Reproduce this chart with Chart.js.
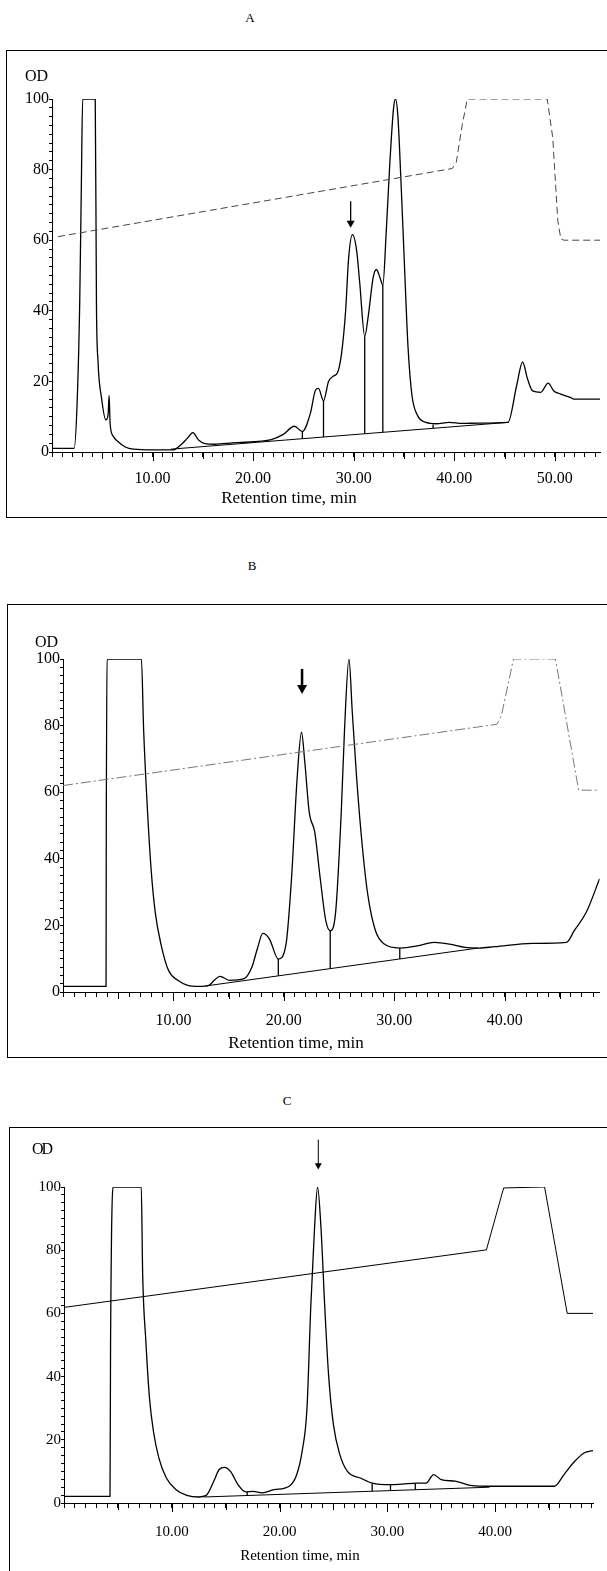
<!DOCTYPE html>
<html>
<head>
<meta charset="utf-8">
<script src="https://cdn.jsdelivr.net/npm/chart.js@4.4.1/dist/chart.umd.min.js"></script>
<style>
html, body { margin: 0; padding: 0; overflow: hidden; background: #fff; }
#page { position: relative; width: 607px; height: 1571px; overflow: hidden; font-family: "Liberation Serif", "Times New Roman", serif; color: #000; }
.frame { position: absolute; border: 1px solid #000; box-sizing: border-box; width: 700px; }
.lbl { position: absolute; white-space: nowrap; line-height: 1; }
.c { transform: translate(-50%, -50%); }
canvas { position: absolute; left: 0; }
</style>
</head>
<body>
<div id="page">
  <div class="frame" style="left:6px; top:50px; height:468px;"></div>
  <div class="frame" style="left:7px; top:604px; height:454px;"></div>
  <div class="frame" style="left:9px; top:1127px; height:500px;"></div>

  <canvas id="chartA" width="607" height="467" style="top:50px;"></canvas>
  <canvas id="chartB" width="607" height="453" style="top:604px;"></canvas>
  <canvas id="chartC" width="607" height="444" style="top:1127px;"></canvas>

  <div class="lbl c" style="left:250px; top:17px; font-size:13px;">A</div>
  <div class="lbl c" style="left:252px; top:565px; font-size:13px;">B</div>
  <div class="lbl c" style="left:287px; top:1100px; font-size:13px;">C</div>

  <div class="lbl" style="left:25px; top:68px; font-size:16px;">OD</div>
  <div class="lbl" style="left:35px; top:634px; font-size:16px;">OD</div>
  <div class="lbl" style="left:32px; top:1141px; font-size:16px; letter-spacing:-2px;">OD</div>

  <div class="lbl c" style="left:289px; top:497px; font-size:17px;">Retention time, min</div>
  <div class="lbl c" style="left:296px; top:1042px; font-size:17px;">Retention time, min</div>
  <div class="lbl c" style="left:300px; top:1555px; font-size:15px;">Retention time, min</div>
</div>

<script>
// tick labels shared by all three panels
const xTickLabels = [10, 20, 30, 40, 50];
const yTickLabels = [0, 20, 40, 60, 80, 100];

// ---- A ----
const timeA = [0, 2.2, 2.5, 2.76, 2.92, 3.05, 4.3, 4.42, 4.58, 4.92, 5.35, 5.58, 5.68, 5.78, 6.08, 6.58, 7.24, 8.1,
  10, 12.0, 12.8, 13.5, 14.0, 14.6, 15.2, 16.2, 18, 20, 21.8, 23, 24.1, 24.9, 25.7, 26.2, 26.5, 27.0, 27.5, 28.0, 28.4,
  28.8, 29.2, 29.5, 29.88, 30.3, 30.6, 31.1, 31.45, 31.94, 32.27, 32.66, 32.9, 33.25, 33.6, 33.97, 34.16, 34.4, 34.7,
  35.05, 35.4, 35.8, 36.36, 37.2, 38.2, 39.5, 40.8, 42.5, 45.35, 46.2, 46.8, 47.3, 47.8, 48.6, 49.34, 49.9, 50.6,
  51.6, 51.9, 54.5];
const odA = [1, 1, 14, 43, 76, 100, 100, 42, 25.5, 15.4, 9.1, 10.6, 16, 8, 4.5, 2.9, 1.5, 0.8,
  0.6, 0.6, 2, 4, 5.5, 3.3, 2.4, 2.2, 2.6, 2.9, 3.5, 5, 7.3, 5.8, 11, 17.5, 18, 14.5, 20, 21.5, 22.5,
  28, 40, 55, 61.6, 57, 48, 32.8, 38.5, 49.5, 51.7, 49, 47.3, 63, 82, 97.5, 100, 95, 77,
  53, 30, 16, 10.3, 8.4, 8, 8.4, 8.1, 8.2, 8.4, 18.7, 25.5, 20.6, 17.3, 16.9, 19.5, 17.3, 16.4,
  15.4, 15, 15];
const gradTimeA = [0.6, 39.8, 40.2, 40.8, 41.3, 49.25, 49.8, 50.3, 50.6, 50.9, 54.5];
const gradA = [61, 80.3, 82, 92.7, 100, 100, 89, 65.5, 60.4, 60, 60];
const baseTimeA = [11.8, 45.35];
const baseA = [0.8, 8.4];
const dropTimeA = [24.9, 27.0, 31.1, 32.9, 37.9];
const dropTopA = [5.8, 14.5, 32.8, 47.3, 7.8];
const arrowTimeA = 29.7;
const arrowA = [71, 63.5];

// ---- B ----
const timeB = [0, 3.9, 3.92, 4.05, 7.1, 7.3, 7.66, 8.0, 8.35, 8.87, 9.55, 10.4, 11.3, 12.3, 13.2, 13.7, 14.2, 14.6,
  15.05, 16.4, 17.1, 17.6, 18.1, 18.7, 19.5, 20.2, 20.7, 21.2, 21.6, 21.9, 22.3, 22.8, 23.3, 23.8, 24.2, 24.7, 25.2,
  25.5, 25.9, 26.2, 26.6, 27.1, 27.6, 28.3, 29.1, 30.5, 32.2, 33.6, 35.0, 36.4, 37.7, 39.1, 42.5, 45.6, 46.3, 47.4, 48.6];
const odB = [1.7, 1.7, 50, 100, 100, 79, 54, 36, 24, 14.4, 6.5, 3.5, 2, 1.7, 2, 3.5, 4.7, 4.2,
  3.5, 4, 7.4, 13, 17.6, 15.9, 9.9, 14.4, 34.3, 64, 78, 69, 54, 48, 34, 21.4, 18.4, 24.3, 54,
  79, 100, 84, 64, 44, 29.3, 18.4, 14.4, 13.2, 13.9, 14.9, 14.4, 13.4, 13.2, 13.6, 14.6, 14.9, 18.4, 24, 34];
const gradTimeB = [0, 39.3, 39.7, 40.8, 44.6, 46.7, 48.6];
const gradB = [62, 80.4, 83, 100, 100, 60.6, 60.6];
const baseTimeB = [12.9, 37.6];
const baseB = [1.8, 13.2];
const dropTimeB = [19.5, 24.2, 30.5];
const dropTopB = [9.9, 18.4, 13.2];
const arrowTimeB = 21.65;
const arrowB = [97, 89.5];

// ---- C ----
const timeC = [0, 4.27, 4.32, 4.6, 7.17, 7.3, 7.6, 7.94, 8.3, 8.8, 9.5, 10.4, 11.4, 12.5, 13.2, 13.9, 14.4, 14.9,
  15.45, 16.15, 16.85, 17.55, 18.4, 19.5, 20.9, 21.6, 22.1, 22.55, 22.9, 23.25, 23.53, 23.85, 24.2, 24.55, 25.0,
  25.6, 26.3, 27.5, 28.6, 30.3, 31.4, 32.8, 33.6, 34.3, 35.0, 36.3, 37.7, 39.8, 43.3, 45.5, 46.4, 47.4, 48.3, 49.1];
const odC = [2.1, 2.1, 50, 100, 100, 72.5, 51, 33, 22.7, 14.3, 7.9, 4.2, 2.4, 1.9, 2.4, 6.9, 10.6, 11.3,
  10, 5.8, 3.5, 3.7, 3.2, 4.2, 5.3, 9, 16.4, 30, 62, 87, 100, 87, 62, 40.7, 24.9,
  15.3, 10, 7.9, 6.3, 5.8, 6, 6.3, 6.3, 9, 7.4, 6.9, 5.6, 5.3, 5.3, 5.3, 9, 13.2, 15.9, 16.6];
const gradTimeC = [0, 39.2, 40.8, 44.6, 46.7, 49.1];
const gradC = [61.9, 80.1, 99.7, 100, 60, 60];
const baseTimeC = [13.0, 39.5];
const baseC = [1.9, 5.0];
const dropTimeC = [17.0, 28.6, 30.3, 32.6];
const dropTopC = [3.5, 6.3, 5.8, 6.3];
const arrowTimeC = 23.6;
const arrowC = [115, 105.5];

const FONT = '"Liberation Serif", "Times New Roman", serif';

function pts(xs, ys) {
    return xs.map((x, i) => ({ x: x, y: ys[i] }));
}

function interp(xs, ys, x) {
    for (let i = 1; i < xs.length; i++) {
        if (x <= xs[i]) {
            const f = (x - xs[i - 1]) / (xs[i] - xs[i - 1]);
            return ys[i - 1] + f * (ys[i] - ys[i - 1]);
        }
    }
    return ys[ys.length - 1];
}

// vertical drop lines from the integration baseline up to the trace
function dropPts(ts, tops, baseT, baseV) {
    const out = [];
    ts.forEach((t, i) => {
        out.push({ x: t, y: interp(baseT, baseV, t) }, { x: t, y: tops[i] }, { x: t, y: null });
    });
    return out;
}

// longer tick marks every 5 min
const majorTicks = {
    id: 'majorTicks',
    afterDraw(chart) {
        const xs = chart.scales.x;
        const ctx = chart.ctx;
        ctx.save();
        ctx.strokeStyle = '#000';
        ctx.lineWidth = 1;
        for (let t = 5; t < xs.max; t += 5) {
            const px = Math.round(xs.getPixelForValue(t)) + 0.5;
            ctx.beginPath();
            ctx.moveTo(px, xs.top);
            ctx.lineTo(px, xs.top + (t % 10 === 0 ? 9 : 7));
            ctx.stroke();
        }
        ctx.restore();
    }
};

// arrow marking the collected peak (may sit above the plot area, so drawn here)
const peakArrow = {
    id: 'peakArrow',
    afterDatasetsDraw(chart, args, opts) {
        const px = chart.scales.x.getPixelForValue(opts.t);
        const y1 = chart.scales.y.getPixelForValue(opts.od[0]);
        const y2 = chart.scales.y.getPixelForValue(opts.od[1]);
        const ctx = chart.ctx;
        ctx.save();
        ctx.strokeStyle = '#000';
        ctx.fillStyle = '#000';
        ctx.lineWidth = opts.width;
        ctx.beginPath();
        ctx.moveTo(px, y1);
        ctx.lineTo(px, y2 - opts.head * 1.5);
        ctx.stroke();
        ctx.beginPath();
        ctx.moveTo(px - opts.head, y2 - opts.head * 1.8);
        ctx.lineTo(px + opts.head, y2 - opts.head * 1.8);
        ctx.lineTo(px, y2);
        ctx.closePath();
        ctx.fill();
        ctx.restore();
    }
};

function makeChart(id, p, d) {
    const datasets = [
        { data: pts(d.gradT, d.grad), borderColor: p.gradColor, borderWidth: 1, borderDash: p.gradDash,
          pointRadius: 0, tension: 0 },
        { data: pts(d.baseT, d.base), borderColor: '#000', borderWidth: 1, pointRadius: 0, tension: 0 },
        { data: dropPts(d.dropT, d.dropTop, d.baseT, d.base), borderColor: '#000', borderWidth: 1.3,
          pointRadius: 0, tension: 0, spanGaps: false },
        { data: pts(d.time, d.od), borderColor: '#000', borderWidth: 1.3, pointRadius: 0,
          cubicInterpolationMode: 'monotone' }
    ];

    return new Chart(document.getElementById(id), {
        type: 'line',
        data: { datasets: datasets },
        options: {
            responsive: false,
            animation: false,
            events: [],
            layout: { padding: { top: p.padTop, left: 0, right: 0, bottom: 0 } },
            plugins: {
                legend: { display: false },
                tooltip: { enabled: false },
                peakArrow: { t: d.arrowT, od: d.arrow, width: p.arrowWidth, head: p.arrowHead }
            },
            scales: {
                x: {
                    type: 'linear', min: 0, max: p.xMax,
                    afterFit: s => { s.height = p.xHeight; },
                    border: { color: '#000', width: 1 },
                    grid: { drawOnChartArea: false, tickLength: 5, color: '#000' },
                    ticks: {
                        stepSize: 1, autoSkip: false, includeBounds: false, maxRotation: 0,
                        padding: p.xPad, color: '#000', font: { family: FONT, size: p.tickSize },
                        callback: v => xTickLabels.includes(v) ? v.toFixed(2) : ''
                    }
                },
                y: {
                    min: 0, max: 100,
                    afterFit: s => { s.width = p.axisX; },
                    border: { color: '#000', width: 1 },
                    grid: { drawOnChartArea: false, tickLength: 3, color: '#000' },
                    ticks: {
                        stepSize: 2.5, autoSkip: false, padding: 0, color: '#000',
                        font: { family: FONT, size: p.tickSize },
                        callback: v => yTickLabels.includes(v) ? String(v) : ''
                    }
                }
            }
        },
        plugins: [majorTicks, peakArrow]
    });
}

window.onload = function () {
    makeChart('chartA',
        { padTop: 49, xHeight: 65, axisX: 52, xMax: 54.5, xPad: 12, tickSize: 16,
          gradColor: '#444', gradDash: [7, 4], arrowWidth: 1.3, arrowHead: 4 },
        { time: timeA, od: odA, gradT: gradTimeA, grad: gradA, baseT: baseTimeA, base: baseA,
          dropT: dropTimeA, dropTop: dropTopA, arrowT: arrowTimeA, arrow: arrowA });

    makeChart('chartB',
        { padTop: 55, xHeight: 65, axisX: 63, xMax: 48.6, xPad: 14, tickSize: 16,
          gradColor: '#777', gradDash: [10, 3, 2, 3], arrowWidth: 2.5, arrowHead: 5 },
        { time: timeB, od: odB, gradT: gradTimeB, grad: gradB, baseT: baseTimeB, base: baseB,
          dropT: dropTimeB, dropTop: dropTopB, arrowT: arrowTimeB, arrow: arrowB });

    makeChart('chartC',
        { padTop: 60, xHeight: 68, axisX: 64, xMax: 49.1, xPad: 15, tickSize: 15,
          gradColor: '#000', gradDash: [], arrowWidth: 1, arrowHead: 3.5 },
        { time: timeC, od: odC, gradT: gradTimeC, grad: gradC, baseT: baseTimeC, base: baseC,
          dropT: dropTimeC, dropTop: dropTopC, arrowT: arrowTimeC, arrow: arrowC });
};
</script>
</body>
</html>
